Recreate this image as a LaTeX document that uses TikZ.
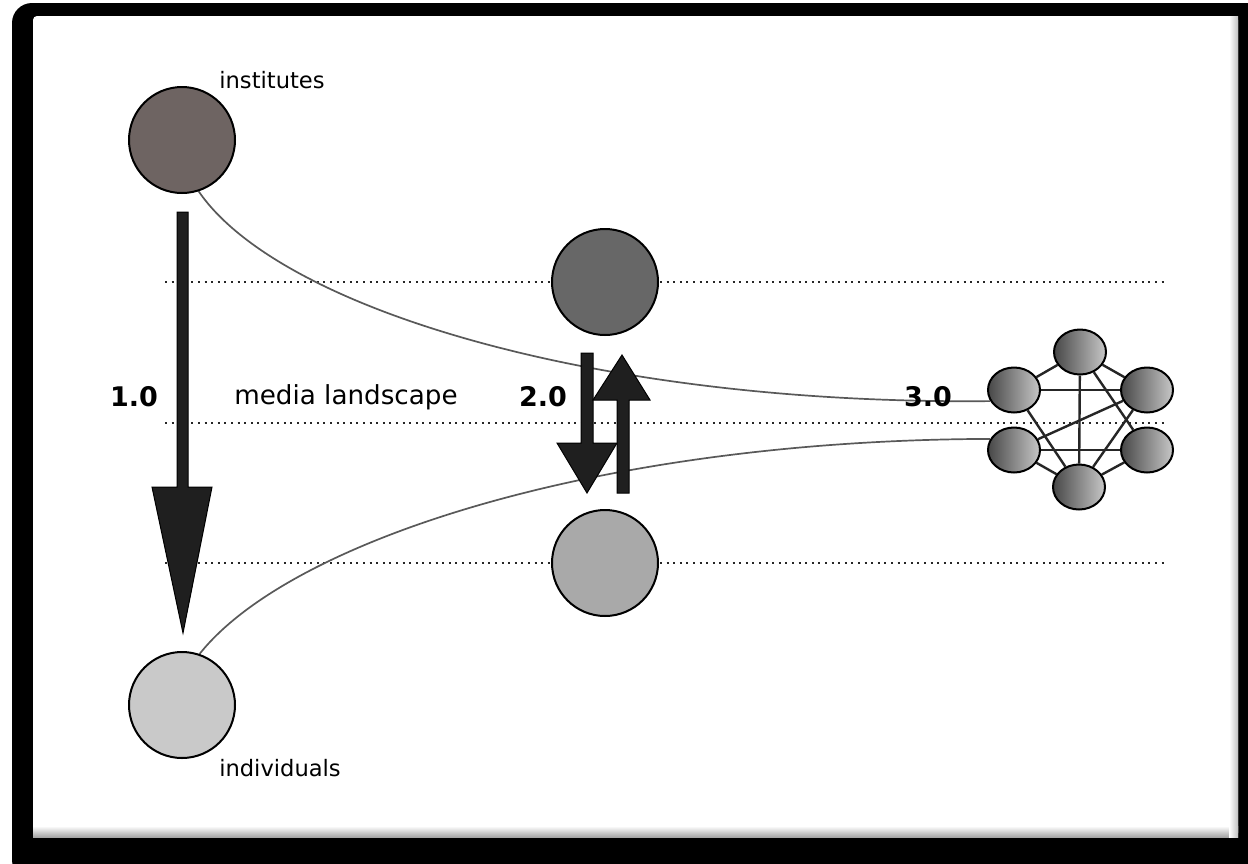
\documentclass[tikz,border=0pt]{standalone}
\usepackage{fontspec}
\setmainfont{DejaVu Sans}
\usetikzlibrary{shapes.geometric}
\pgfdeclarelayer{back}
\pgfdeclarelayer{bg}
\pgfsetlayers{back,bg,main}
\definecolor{instc}{HTML}{6E6462}
\definecolor{midtop}{HTML}{676767}
\definecolor{midbot}{HTML}{A9A9A9}
\definecolor{indivc}{HTML}{C9C9C9}
\begin{document}
\begin{tikzpicture}[x=0.5pt,y=-0.5pt,
  bigcirc/.style={circle,draw=black,line width=1pt,minimum size=53pt,inner sep=0pt},
  netnode/.style={ellipse,draw=black,line width=1pt,minimum width=26pt,minimum height=22.5pt,inner sep=0pt,left color=black!72,right color=black!22},
  netedge/.style={line width=1.2pt,black!85},
  guide/.style={line width=1.3pt,black!85,dash pattern=on 1pt off 2.3pt},
  flow/.style={line width=0.85pt,black!65},
  arrowfill/.style={fill=black!88,draw=black,line width=0.5pt},
  lab/.style={font=\fontsize{11.3}{13}\selectfont,inner sep=0pt},
  medialab/.style={font=\fontsize{13.1}{15}\selectfont,inner sep=0pt},
  num/.style={font=\fontsize{13.5}{16}\selectfont\bfseries,inner sep=0pt},
]
\useasboundingbox (0,0) rectangle (1248,863);
\begin{pgfonlayer}{back}
\begin{scope}
\clip (0,0) rectangle (1248,863);
\fill[white] (0,0) rectangle (1248,863);
\fill[black,rounded corners=10pt] (12,3) rectangle (1270,880);
\fill[white,rounded corners=2pt] (33,16) rectangle (1238,837);
\shade[top color=white,bottom color=black!35] (33,826) rectangle (1238,837);
\shade[left color=white,right color=black!25] (1229,16) rectangle (1238,837);
\end{scope}
\end{pgfonlayer}

% guide lines
\coordinate (g1a) at (165,282); \coordinate (g1b) at (1168,282);
\coordinate (g2a) at (165,423); \coordinate (g2b) at (1168,423);
\coordinate (g3a) at (165,563); \coordinate (g3b) at (1168,563);

% main circles
\node[bigcirc,fill=instc] (inst) at (182,140) {};
\node[bigcirc,fill=indivc] (indiv) at (182,705) {};
\node[bigcirc,fill=midtop] (top2) at (605,282) {};
\node[bigcirc,fill=midbot] (bot2) at (605,563) {};

% network
\node[netnode] (nt) at (1080,352) {};
\node[netnode] (lt) at (1014,390) {};
\node[netnode] (rt) at (1147,390) {};
\node[netnode] (lb) at (1014,450) {};
\node[netnode] (rb) at (1147,450) {};
\node[netnode] (nb) at (1079,487) {};

\begin{pgfonlayer}{bg}
\draw[guide] (g1a) -- (g1b);
\draw[guide] (g2a) -- (g2b);
\draw[guide] (g3a) -- (g3b);
\draw[flow] (inst.-72) .. controls (280,310) and (600,405) .. (lt.205);
\draw[flow] (indiv.71) .. controls (290,540) and (600,440) .. (lb.155);
\foreach \a/\b in {nt/lt,nt/rt,nt/nb,nt/rb,lt/rt,lt/nb,rt/nb,rt/lb,lb/rb,lb/nb,rb/nb}
  \draw[netedge] (\a) -- (\b);
\end{pgfonlayer}

% arrows
\filldraw[arrowfill] (177,212) -- (188,212) -- (188,487) -- (212,487) -- (183,633) -- (152,487) -- (177,487) -- cycle;
\filldraw[arrowfill] (581,353) -- (593,353) -- (593,443) -- (617,443) -- (587,493) -- (557,443) -- (581,443) -- cycle;
\filldraw[arrowfill] (617,493) -- (629,493) -- (629,400) -- (650,400) -- (622,355) -- (593,400) -- (617,400) -- cycle;

% labels
\node[lab] (tinst) at (272,80) {institutes};
\node[lab] (tind) at (280,768) {individuals};
\node[medialab] (media) at (346,397) {media landscape};
\node[num] (n1) at (134,397) {1.0};
\node[num] (n2) at (543,397) {2.0};
\node[num] (n3) at (928,397) {3.0};
\end{tikzpicture}
\end{document}
